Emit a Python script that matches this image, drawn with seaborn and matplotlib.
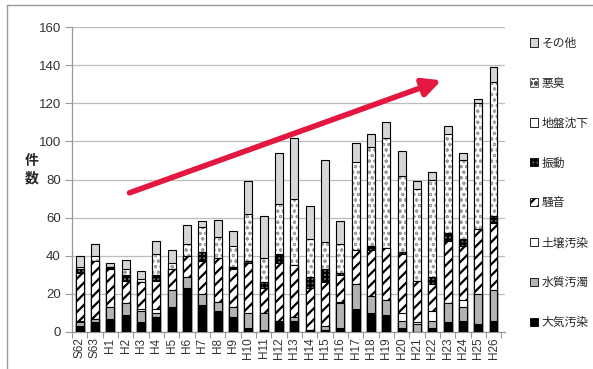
import numpy as np
import pandas as pd
import matplotlib
matplotlib.use("Agg")
import matplotlib.pyplot as plt
import seaborn as sns
from matplotlib.patches import Patch
from matplotlib.lines import Line2D

# 年度別の苦情件数（種類別）
years = ["S62", "S63", "H1", "H2", "H3", "H4", "H5", "H6", "H7", "H8", "H9",
         "H10", "H11", "H12", "H13", "H14", "H15", "H16", "H17", "H18", "H19",
         "H20", "H21", "H22", "H23", "H24", "H25", "H26"]
air        = [3, 5, 7, 9, 5, 8, 13, 23, 14, 11, 8, 2, 1, 5, 6, 1, 1, 2, 12, 10, 9, 2, 0, 2, 5, 6, 4, 6]
water      = [2, 2, 6, 6, 6, 2, 9, 6, 6, 5, 5, 8, 9, 1, 2, 0, 2, 13, 13, 9, 8, 4, 4, 4, 10, 7, 16, 16]
soil       = [1, 0, 0, 0, 1, 2, 0, 0, 0, 0, 0, 0, 0, 0, 0, 0, 0, 1, 0, 0, 0, 4, 1, 5, 0, 4, 0, 0]
noise      = [25, 30, 20, 12, 14, 15, 11, 11, 17, 23, 20, 26, 13, 30, 27, 22, 23, 14, 18, 24, 27, 31, 22, 14, 33, 28, 34, 35]
vibration  = [2, 0, 1, 3, 0, 3, 0, 0, 5, 0, 1, 1, 3, 5, 0, 6, 7, 1, 0, 2, 0, 1, 0, 4, 4, 4, 0, 4]
subsidence = [0, 0, 0, 0, 0, 0, 0, 0, 0, 0, 0, 0, 0, 0, 0, 0, 0, 0, 0, 0, 0, 0, 0, 0, 0, 0, 0, 0]
odor       = [1, 3, 0, 3, 2, 11, 3, 6, 13, 11, 11, 25, 13, 26, 35, 20, 14, 15, 46, 52, 58, 40, 48, 51, 52, 41, 66, 70]
other      = [6, 6, 2, 5, 4, 7, 7, 10, 3, 9, 8, 17, 22, 27, 32, 17, 43, 12, 10, 7, 8, 13, 4, 4, 4, 4, 2, 8]

labels = ["大気汚染", "水質汚濁", "土壌汚染", "騒音", "振動", "地盤沈下", "悪臭", "その他"]
yticks = [0, 20, 40, 60, 80, 100, 120, 140, 160]

sns.set_theme(style="white")
plt.rcParams["font.family"] = ["Noto Sans CJK JP", "DejaVu Sans"]
plt.rcParams["hatch.linewidth"] = 1.6

series = [air, water, soil, noise, vibration, subsidence, odor, other]
# face colour, hatch, hatch colour for each layer (bottom to top)
styles = [
    ("#000000", None, "black"),
    ("#b3b3b3", None, "black"),
    ("#ffffff", None, "black"),
    ("#ffffff", "///", "black"),
    ("#6e6e6e", "++++", "black"),
    ("#ffffff", None, "black"),
    ("#ffffff", "ooo", "#9a9a9a"),
    ("#d6d6d6", None, "black"),
]

df = pd.DataFrame({"year": years})
cum = np.cumsum(np.array(series, dtype=float), axis=0)

fig = plt.figure(figsize=(5.93, 3.69), dpi=100)
ax = fig.add_axes([72 / 593, 37 / 369, 433 / 593, 305 / 369])

bw = 0.52
# cumulative bars drawn from the top layer down, each hiding the part below it
for k in range(len(series) - 1, -1, -1):
    df["h"] = cum[k]
    face, hatch, hcol = styles[k]
    if hcol != "black":
        n_before = len(ax.patches)
        sns.barplot(data=df, x="year", y="h", order=years, color=face, hatch=hatch,
                    edgecolor=hcol, linewidth=0, saturation=1, width=bw,
                    errorbar=None, ax=ax, zorder=3)
        for p in ax.patches[n_before:]:
            if hasattr(p, "set_hatch_linewidth"):
                p.set_hatch_linewidth(0.7)
        sns.barplot(data=df, x="year", y="h", order=years, color="black", fill=False,
                    linewidth=0.8, width=bw, errorbar=None, ax=ax, zorder=3)
    else:
        sns.barplot(data=df, x="year", y="h", order=years, color=face, hatch=hatch,
                    edgecolor="black", linewidth=0.8, saturation=1, width=bw,
                    errorbar=None, ax=ax, zorder=3)

ax.set_xlim(-0.4, 27.75)
ax.set_ylim(0, 160)
ax.set_yticks(yticks)
ax.set_yticklabels([str(t) for t in yticks], fontsize=9.5, color="#333333",
                   family=["Liberation Sans", "DejaVu Sans"])
ax.set_xticks(range(len(years)))
ax.set_xticklabels(years, rotation=90, fontsize=8.5, color="#333333",
                   family=["Liberation Sans", "DejaVu Sans"])
ax.set_xlabel("")
ax.set_ylabel("")
ax.yaxis.grid(True, color="#bdbdbd", linewidth=0.9, zorder=0)
ax.set_axisbelow(True)
ax.tick_params(axis="x", length=0, pad=4)
ax.tick_params(axis="y", length=5, width=0.8, color="#999999", left=True, pad=3)
ax.set_xticks(np.arange(-0.5, len(years), 1.0), minor=True)
ax.tick_params(axis="x", which="minor", length=4, width=0.8, color="#999999", bottom=True)
for side in ("top", "right"):
    ax.spines[side].set_visible(False)
for side in ("left", "bottom"):
    ax.spines[side].set_color("#999999")
    ax.spines[side].set_linewidth(0.9)

fig.text(32 / 593, 1 - 170 / 369, "件\n数", ha="center", va="center",
         fontsize=10, fontweight="bold", linespacing=1.3)

# upward trend arrow
ax.annotate("", xy=(23.6, 132), xytext=(3.25, 73), xycoords="data",
            arrowprops=dict(arrowstyle="-|>,head_length=0.9,head_width=0.45",
                            color="#e3173f", lw=4, shrinkA=0, shrinkB=0),
            zorder=6)

handles = []
for (face, hatch, hcol) in styles:
    handles.append(Patch(facecolor=face, edgecolor="black" if hcol == "black" else "#555555",
                         hatch=hatch, linewidth=0.6))
fig.legend(handles[::-1], labels[::-1], loc="upper left",
           bbox_to_anchor=(525 / 593, 1 - 32 / 369), frameon=False,
           handlelength=0.7, handleheight=0.7, handletextpad=0.3,
           labelspacing=2.28, fontsize=8.5, borderaxespad=0)

# outer frame of the figure
fig.add_artist(Line2D([7 / 593, 7 / 593], [0, 1 - 5 / 369], transform=fig.transFigure,
                      color="#9a9a9a", lw=1))
fig.add_artist(Line2D([7 / 593, 1], [1 - 5 / 369, 1 - 5 / 369], transform=fig.transFigure,
                      color="#9a9a9a", lw=1))

fig.savefig("out.png", dpi=100)
